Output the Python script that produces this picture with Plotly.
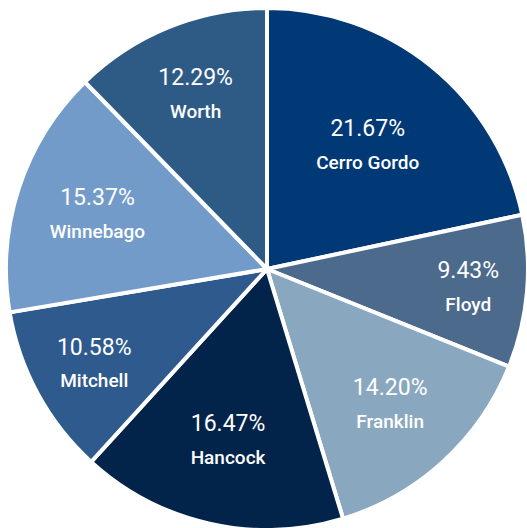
import plotly.graph_objects as go

counties = ["Cerro Gordo", "Floyd", "Franklin", "Hancock", "Mitchell", "Winnebago", "Worth"]
shares = [21.67, 9.43, 14.20, 16.47, 10.58, 15.37, 12.29]
colors = ["#013876", "#4c6a8c", "#8aa7c0", "#03244a", "#2e5a8e", "#739bc9", "#2e5b85"]

# figure is a bit larger than the 527x528 window so the pie can be clipped at right/bottom
W, H = 540, 540
cx, cy, r = 267, 269, 261

fig = go.Figure(go.Pie(
    labels=counties,
    values=shares,
    sort=False,
    direction="clockwise",
    rotation=0,
    marker=dict(colors=colors, line=dict(color="white", width=4)),
    texttemplate="<span style='font-size:23px;font-weight:400'>%{value:.2f}%</span><br>"
                 "<span style='font-size:19px;font-weight:500'>%{label}</span>",
    textinfo="text",
    textposition="inside",
    insidetextorientation="horizontal",
    textfont=dict(family="Roboto", size=25, color="white"),
    domain=dict(x=[(cx - r) / W, (cx + r) / W], y=[(H - cy - r) / H, (H - cy + r) / H]),
    showlegend=False,
    hoverinfo="label+percent",
))

fig.update_layout(
    width=W, height=H,
    margin=dict(l=0, r=0, t=0, b=0),
    paper_bgcolor="white",
    plot_bgcolor="white",
)

fig.write_html("out.html", config={"displayModeBar": False},
               post_script="document.body.style.margin='0';document.body.style.overflow='hidden';")
